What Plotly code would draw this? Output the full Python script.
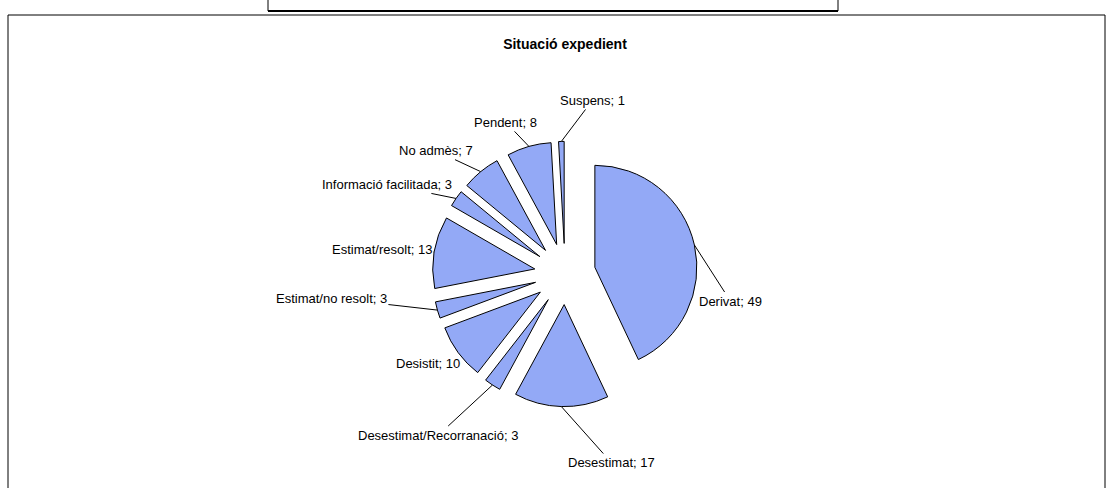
import math
import plotly.graph_objects as go

# ---- data ----
categories = ["Derivat", "Desestimat", "Desestimat/Recorranació", "Desistit",
              "Estimat/no resolt", "Estimat/resolt", "Informació facilitada",
              "No admès", "Pendent", "Suspens"]
values = [49, 17, 3, 10, 3, 13, 3, 7, 8, 1]
title_text = "Situació expedient"

# ---- layout / style ----
W, H = 1113, 488
CX, CY = 565, 274          # pie centre, px
R = 102                    # pie radius, px
PULL = 0.3
FONT = "Liberation Sans"
slice_color = "#93a9f6"

# label offsets (px) from the slice edge to the label centre, and leader flags
label_offsets = [(36, 56), (50, 56), (-54, 50), (-30, 11), (-106, -12),
                 (-52, -3), (-69, -14), (-45, -21), (-23, -24), (31, -41)]
leader = [True, True, True, False, True, True, True, True, True, True]

span = R * (1 + PULL)
dom_w = 2 * span / W
dom_h = 2 * span / H
cxp, cyp = CX / W, 1 - CY / H

fig = go.Figure(go.Pie(
    labels=categories, values=values, sort=False, direction="clockwise",
    rotation=0, pull=[PULL] * len(values), textinfo="none",
    marker=dict(colors=[slice_color] * len(values), line=dict(color="black", width=1)),
    domain=dict(x=[cxp - dom_w / 2, cxp + dom_w / 2], y=[cyp - dom_h / 2, cyp + dom_h / 2]),
    showlegend=False,
))

total = sum(values)
cum = 0
annotations = []
for cat, v, (ax, ay), ld in zip(categories, values, label_offsets, leader):
    mid = (cum + v / 2) / total * 2 * math.pi
    cum += v
    tx = cxp + span * math.sin(mid) / W
    ty = cyp + span * math.cos(mid) / H
    annotations.append(dict(
        x=tx, y=ty, xref="paper", yref="paper", text=f"{cat}; {v}",
        showarrow=True, arrowhead=0, arrowwidth=1,
        arrowcolor="black" if ld else "rgba(0,0,0,0)",
        ax=ax, ay=ay, font=dict(family=FONT, size=13, color="black"),
    ))

shapes = [
    dict(type="rect", xref="paper", yref="paper", x0=8 / W, x1=1105 / W,
         y0=-0.2, y1=1 - 15 / H, line=dict(color="black", width=1)),
    dict(type="rect", xref="paper", yref="paper", x0=268 / W, x1=838 / W,
         y0=1 - 11 / H, y1=1.2, line=dict(color="black", width=1)),
    dict(type="line", xref="paper", yref="paper", x0=268 / W, x1=838 / W,
         y0=1 - 11 / H, y1=1 - 11 / H, line=dict(color="black", width=2)),
]

fig.update_layout(
    width=W, height=H, margin=dict(l=0, r=0, t=0, b=0),
    paper_bgcolor="white", plot_bgcolor="white",
    title=dict(text=f"<b>{title_text}</b>", x=CX / W, xanchor="center",
               y=1 - 44 / H, yanchor="middle",
               font=dict(family=FONT, size=14, color="black")),
    annotations=annotations, shapes=shapes,
)

fig.write_html("out.html", config={"displayModeBar": False},
               post_script="document.body.style.margin='0';")
